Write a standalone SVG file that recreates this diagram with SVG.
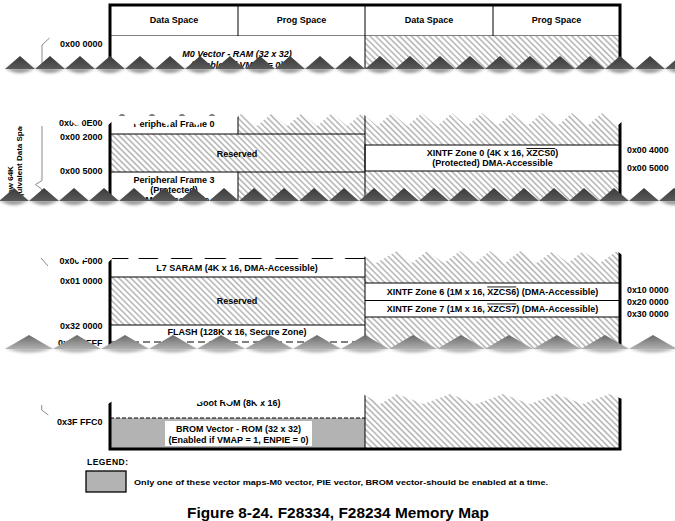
<svg xmlns="http://www.w3.org/2000/svg" width="675" height="521" viewBox="0 0 675 521">
<defs>
  <pattern id="hatch" patternUnits="userSpaceOnUse" width="4.2" height="4.2" patternTransform="rotate(-45)">
    <rect width="4.2" height="4.2" fill="#fff"/>
    <rect x="0" y="0" width="1.7" height="4.2" fill="#bcbcbc"/>
  </pattern>
  <linearGradient id="gDark" x1="0" y1="0" x2="0" y2="1">
    <stop offset="0" stop-color="#3a3a3a"/>
    <stop offset="1" stop-color="#5a5a5a"/>
  </linearGradient>
  <linearGradient id="gLight" x1="0" y1="0" x2="0" y2="1">
    <stop offset="0" stop-color="#6a6a6a"/>
    <stop offset="1" stop-color="#b0b0b0"/>
  </linearGradient>
  <filter id="soft" x="-5%" y="-100%" width="110%" height="300%">
    <feGaussianBlur stdDeviation="1.5"/>
  </filter>
</defs>
<style>
  text{font-family:"Liberation Sans",Arial,Helvetica,sans-serif;font-weight:bold;fill:#000}
  .t{font-size:9px;text-anchor:middle}
  .i{font-style:italic}
  .a{font-size:9px;text-anchor:end}
  .ar{font-size:8.8px}
  .rot{font-size:8px}
  .ln{stroke:#000;stroke-width:1;fill:none}
  .dash{stroke:#000;stroke-width:1;fill:none;stroke-dasharray:7 4}
  .dash2{stroke:#000;stroke-width:1;fill:none;stroke-dasharray:4 2}
  .thick{stroke:#000;stroke-width:3;fill:none;stroke-linejoin:miter}
  .h{fill:url(#hatch)}
  .w{fill:#fff}
  .g{fill:#b3b3b3}
  .brace{stroke:#8a8a8a;stroke-width:1;fill:none}
  .mask{fill:#fff}
  .shadow{fill:#9a9a9a;filter:url(#soft)}
</style>
<rect width="675" height="521" fill="#fff"/>

<!-- ===== Section 1 ===== -->
<g id="header">
  <rect x="110" y="5" width="510" height="31" class="w"/>
  <line x1="238" y1="5" x2="238" y2="36" class="ln"/>
  <line x1="365" y1="5" x2="365" y2="36" class="ln"/>
  <line x1="493" y1="5" x2="493" y2="36" class="ln"/>
  <line x1="110" y1="36" x2="620" y2="36" class="ln"/>
  <text x="174" y="23" class="t">Data Space</text>
  <text x="301.5" y="23" class="t">Prog Space</text>
  <text x="429" y="23" class="t">Data Space</text>
  <text x="556.5" y="23" class="t">Prog Space</text>
</g>
<g id="m0-vector">
  <rect x="110" y="36" width="255" height="54" class="w"/>
  <text x="237" y="57" class="t i">M0 Vector - RAM (32 x 32)</text>
  <text x="237" y="67.5" class="t i">(Enabled if VMAP = 0)</text>
</g>
<g id="s1-reserved-right">
  <rect x="365" y="36" width="255" height="54" class="h"/>
  <line x1="365" y1="36" x2="365" y2="90" class="ln"/>
</g>
<path d="M110,90 V5 H620 V90" class="thick"/>
<g id="brace-top">
  <polyline points="49.5,38 42,45 42,70" class="brace"/>
</g>
<text x="102.5" y="47" class="a">0x00 0000</text>

<!-- ===== Section 2 ===== -->
<g id="peripheral-frame-0">
  <rect x="110" y="100" width="128" height="34" class="w"/>
  <line x1="110" y1="115" x2="238" y2="115" class="ln"/>
  <text x="174" y="127" class="t">Peripheral Frame 0</text>
</g>
<g id="s2-reserved-a"><rect x="238" y="100" width="127" height="34" class="h"/></g>
<g id="reserved-1">
  <rect x="110" y="134" width="255" height="38" class="h"/>
  <text x="237" y="157" class="t">Reserved</text>
</g>
<g id="peripheral-frame-3">
  <rect x="110" y="172" width="128" height="43" class="w"/>
  <text x="174" y="183" class="t">Peripheral Frame 3</text>
  <text x="174" y="193" class="t">(Protected)</text>
  <text x="174" y="203" class="t">DMA-Accessible</text>
</g>
<g id="s2-reserved-b"><rect x="238" y="172" width="127" height="43" class="h"/></g>
<g id="s2-reserved-right"><rect x="365" y="100" width="255" height="115" class="h"/></g>
<g id="xintf-zone-0">
  <rect x="365" y="145" width="255" height="26" class="ln" style="fill:#fff"/>
  <text x="492.5" y="156" class="t">XINTF Zone 0 (4K x 16, <tspan style="text-decoration:overline">XZCS0</tspan>)</text>
  <text x="492.5" y="166" class="t">(Protected) DMA-Accessible</text>
</g>
<g id="s2-lines">
  <line x1="110" y1="134" x2="365" y2="134" class="ln"/>
  <line x1="110" y1="172" x2="365" y2="172" class="ln"/>
  <line x1="238" y1="100" x2="238" y2="134" class="ln"/>
  <line x1="238" y1="172" x2="238" y2="215" class="ln"/>
  <line x1="365" y1="100" x2="365" y2="215" class="ln"/>
  <line x1="110" y1="100" x2="110" y2="215" class="thick"/>
  <line x1="620" y1="100" x2="620" y2="215" class="thick"/>
</g>
<g id="brace-low64k">
  <polyline points="42,124 42,180.5 35.5,184.5 41.5,189 42,200" class="brace"/>
  <text class="rot" transform="translate(13,199) rotate(-90)">Low 64K</text>
  <text class="rot" transform="translate(22,242) rotate(-90)">(24x/240x Equivalent Data Space)</text>
</g>
<g id="s2-addresses">
  <text x="102.5" y="126" class="a">0x00 0E00</text>
  <text x="102.5" y="140" class="a">0x00 2000</text>
  <text x="102.5" y="174" class="a">0x00 5000</text>
  <text x="627" y="153" class="ar">0x00 4000</text>
  <text x="627" y="171" class="ar">0x00 5000</text>
</g>

<!-- ===== Section 3 ===== -->
<g id="l7-saram">
  <rect x="110" y="240" width="255" height="37" class="w"/>
  <line x1="110" y1="258.5" x2="365" y2="258.5" class="ln"/>
  <text x="237" y="271" class="t">L7 SARAM (4K x 16, DMA-Accessible)</text>
</g>
<g id="reserved-2">
  <rect x="110" y="277" width="255" height="48" class="h"/>
  <text x="237" y="304" class="t">Reserved</text>
</g>
<g id="flash">
  <rect x="110" y="325" width="255" height="40" class="w"/>
  <text x="237" y="334.5" class="t">FLASH (128K x 16, Secure Zone)</text>
  <line x1="110" y1="342" x2="365" y2="342" class="dash"/>
</g>
<g id="s3-reserved-right"><rect x="365" y="240" width="255" height="125" class="h"/></g>
<g id="xintf-zone-6">
  <rect x="365" y="283" width="255" height="17.5" class="w"/>
  <text x="492.5" y="294.5" class="t">XINTF Zone 6 (1M x 16, <tspan style="text-decoration:overline">XZCS6</tspan>) (DMA-Accessible)</text>
</g>
<g id="xintf-zone-7">
  <rect x="365" y="300.5" width="255" height="16.5" class="w"/>
  <text x="492.5" y="311.5" class="t">XINTF Zone 7 (1M x 16, <tspan style="text-decoration:overline">XZCS7</tspan>) (DMA-Accessible)</text>
</g>
<g id="s3-lines">
  <line x1="110" y1="277" x2="365" y2="277" class="ln"/>
  <line x1="110" y1="325" x2="365" y2="325" class="ln"/>
  <line x1="365" y1="283" x2="620" y2="283" class="ln"/>
  <line x1="365" y1="300.5" x2="620" y2="300.5" class="ln"/>
  <line x1="365" y1="317" x2="620" y2="317" class="ln"/>
  <line x1="365" y1="240" x2="365" y2="365" class="ln"/>
  <line x1="110" y1="240" x2="110" y2="365" class="thick"/>
  <line x1="620" y1="240" x2="620" y2="365" class="thick"/>
</g>
<polyline points="41,258 48,266" class="brace"/>
<g id="s3-addresses">
  <text x="102.5" y="264" class="a">0x00 F000</text>
  <text x="102.5" y="284" class="a">0x01 0000</text>
  <text x="102.5" y="329" class="a">0x32 0000</text>
  <text x="102.5" y="346" class="a">0x33 FFFF</text>
  <text x="627" y="293" class="ar">0x10 0000</text>
  <text x="627" y="305" class="ar">0x20 0000</text>
  <text x="627" y="316.5" class="ar">0x30 0000</text>
</g>

<!-- ===== Section 4 ===== -->
<g id="boot-rom">
  <rect x="110" y="385" width="255" height="33" class="w"/>
  <text x="238.5" y="406" class="t">Boot ROM (8K x 16)</text>
</g>
<g id="brom-vector">
  <rect x="110" y="418" width="255" height="31" class="g"/>
  <rect x="165" y="421" width="147" height="25" class="w"/>
  <text x="238.5" y="432" class="t">BROM Vector - ROM (32 x 32)</text>
  <text x="238.5" y="442.5" class="t">(Enabled if VMAP = 1, ENPIE = 0)</text>
  <line x1="110" y1="418" x2="365" y2="418" class="dash2"/>
</g>
<g id="s4-reserved-right">
  <rect x="365" y="385" width="255" height="64" class="h"/>
  <line x1="365" y1="385" x2="365" y2="449" class="ln"/>
</g>
<path d="M110,385 V449 H620 V385" class="thick"/>
<polyline points="41.7,405 41.7,410 48.3,415" class="brace"/>
<text x="102.5" y="425" class="a">0x3F FFC0</text>

<!-- ===== Tears (torn-paper breaks) ===== -->
<g id="tear-1">
  <path class="mask" d="M-5,69 H715 V126 L707,126 L692,113 L677,126 L662,113 L647,126 L632,113 L617,126 L602,113 L587,126 L572,113 L557,126 L542,113 L527,126 L512,113 L497,126 L482,113 L467,126 L452,113 L437,126 L422,113 L407,126 L392,113 L377,126 L362,113 L347,126 L332,113 L317,126 L302,113 L287,126 L272,113 L257,126 L242,113 L227,126 L212,113 L197,126 L182,113 L167,126 L152,113 L137,126 L122,113 L107,126 L92,113 L77,126 L62,113 L47,126 L-5,126 Z"/>
  <path class="shadow" d="M5,68 q15,10 30,0 q15,10 30,0 q15,10 30,0 q15,10 30,0 q15,10 30,0 q15,10 30,0 q15,10 30,0 q15,10 30,0 q15,10 30,0 q15,10 30,0 q15,10 30,0 q15,10 30,0 q15,10 30,0 q15,10 30,0 q15,10 30,0 q15,10 30,0 q15,10 30,0 q15,10 30,0 q15,10 30,0 q15,10 30,0 q15,10 30,0 q15,10 30,0 q15,10 30,0 Z"/>
  <path fill="url(#gDark)" d="M5,69 l15,-13 l15,13 l15,-13 l15,13 l15,-13 l15,13 l15,-13 l15,13 l15,-13 l15,13 l15,-13 l15,13 l15,-13 l15,13 l15,-13 l15,13 l15,-13 l15,13 l15,-13 l15,13 l15,-13 l15,13 l15,-13 l15,13 l15,-13 l15,13 l15,-13 l15,13 l15,-13 l15,13 l15,-13 l15,13 l15,-13 l15,13 l15,-13 l15,13 l15,-13 l15,13 l15,-13 l15,13 l15,-13 l15,13 l15,-13 l15,13 l15,-13 l15,13 l15,-13 l15,13 Z"/>
</g>
<g id="tear-2">
  <path class="mask" d="M-5,201 H715 V263 L710,251 L694.5,263 L679,251 L663.5,263 L648,251 L632.5,263 L617,251 L600,263 L583,251 L568,263 L553,251 L536.5,263 L520,251 L505,263 L490,251 L475,263 L460,251 L443.5,263 L427,251 L412,263 L397,251 L376,263 L355,251 L339,263 L323,251 L305,263 L287,251 L268.5,263 L250,251 L232.5,263 L215,251 L198.5,263 L182,251 L164.5,263 L147,251 L133.5,263 L120,251 L107.5,263 L95,251 L79.5,263 L64,251 L48.5,263 L33,251 L17.5,263 L2,251 L-5,257 Z"/>
  <path class="shadow" d="M-1,200 q15,10 30,0 q15,10 30,0 q15,10 30,0 q15,10 30,0 q15,10 30,0 q15,10 30,0 q15,10 30,0 q15,10 30,0 q15,10 30,0 q15,10 30,0 q15,10 30,0 q15,10 30,0 q15,10 30,0 q15,10 30,0 q15,10 30,0 q15,10 30,0 q15,10 30,0 q15,10 30,0 q15,10 30,0 q15,10 30,0 q15,10 30,0 q15,10 30,0 q15,10 30,0 Z"/>
  <path fill="url(#gDark)" d="M-1,201 l15,-13 l15,13 l15,-13 l15,13 l15,-13 l15,13 l15,-13 l15,13 l15,-13 l15,13 l15,-13 l15,13 l15,-13 l15,13 l15,-13 l15,13 l15,-13 l15,13 l15,-13 l15,13 l15,-13 l15,13 l15,-13 l15,13 l15,-13 l15,13 l15,-13 l15,13 l15,-13 l15,13 l15,-13 l15,13 l15,-13 l15,13 l15,-13 l15,13 l15,-13 l15,13 l15,-13 l15,13 l15,-13 l15,13 l15,-13 l15,13 l15,-13 l15,13 Z"/>
</g>
<g id="tear-3">
  <path class="mask" d="M-5,349 H715 V404 L688.5,404 L662,394 L635.5,404 L609,394 L582.5,404 L556,394 L529.5,404 L503,394 L476.5,404 L450,394 L423.5,404 L397,394 L380,404 L363,394 L348,404 L333,394 L318,404 L303,394 L288,404 L273,394 L258,404 L243,394 L228,404 L213,394 L198,404 L183,394 L168,404 L153,394 L138,404 L123,394 L108,404 L93,394 L78,404 L63,394 L48,404 L33,394 L18,404 L3,394 L-5,399 Z"/>
  <path class="shadow" style="fill:#b0b0b0" d="M5,348 q24,9 48,0 q24,9 48,0 q24,9 48,0 q24,9 48,0 q24,9 48,0 q24,9 48,0 q24,9 48,0 q24,9 48,0 q24,9 48,0 q24,9 48,0 q24,9 48,0 q24,9 48,0 q24,9 48,0 q24,9 48,0 Z"/>
  <path fill="url(#gLight)" d="M5,349 l24,-14 l24,14 l24,-14 l24,14 l24,-14 l24,14 l24,-14 l24,14 l24,-14 l24,14 l24,-14 l24,14 l24,-14 l24,14 l24,-14 l24,14 l24,-14 l24,14 l24,-14 l24,14 l24,-14 l24,14 l24,-14 l24,14 l24,-14 l24,14 l24,-14 l24,14 Z"/>
</g>

<!-- ===== Legend & caption ===== -->
<g id="legend">
  <text x="87" y="465" style="font-size:8.5px" textLength="41" lengthAdjust="spacing">LEGEND:</text>
  <rect x="86" y="471" width="40" height="21" fill="#b3b3b3" stroke="#000" stroke-width="1.3"/>
  <text x="134" y="484.5" style="font-size:8px" textLength="414" lengthAdjust="spacingAndGlyphs">Only one of these vector maps-M0 vector, PIE vector, BROM vector-should be enabled at a time.</text>
</g>
<g id="caption">
  <text x="338" y="518" style="font-size:14px;text-anchor:middle" textLength="302" lengthAdjust="spacingAndGlyphs">Figure 8-24. F28334, F28234 Memory Map</text>
</g>
</svg>
